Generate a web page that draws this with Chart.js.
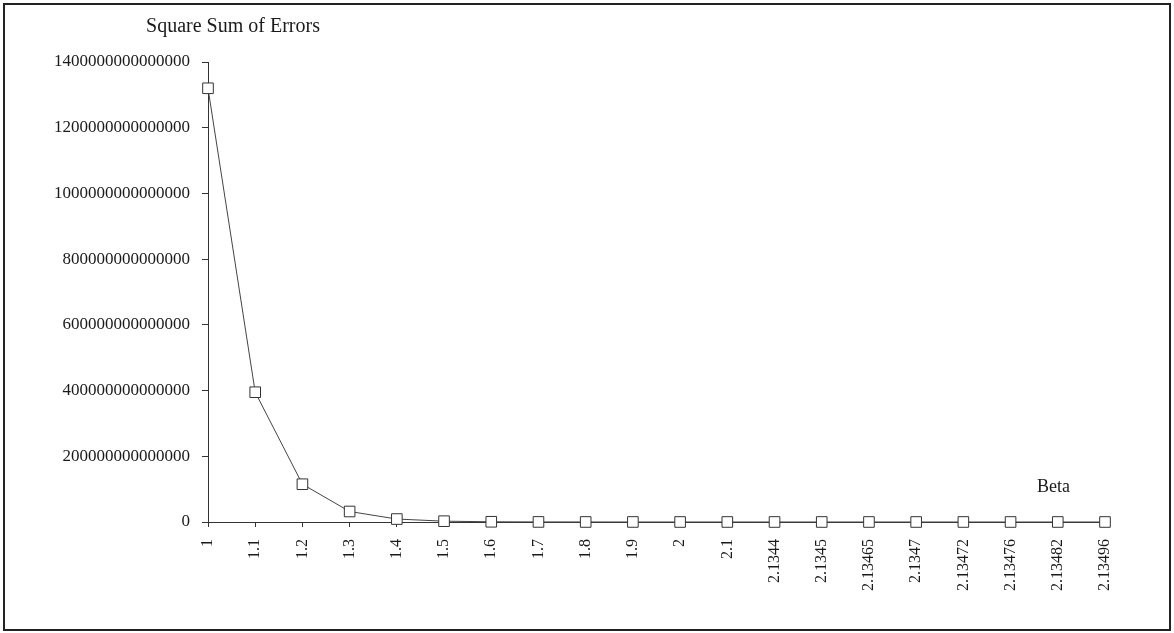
<!DOCTYPE html>
<html>
<head>
<meta charset="utf-8">
<script src="https://cdn.jsdelivr.net/npm/chart.js@4/dist/chart.umd.min.js"></script>
<style>
  html, body { margin: 0; padding: 0; background: #fff; }
  #wrap { width: 1174px; height: 633px; }
</style>
</head>
<body>
<div id="wrap"><canvas id="sseChart" width="1174" height="633"></canvas></div>
<script>
const betaLabels = ['1', '1.1', '1.2', '1.3', '1.4', '1.5', '1.6', '1.7', '1.8', '1.9', '2', '2.1',
    '2.1344', '2.1345', '2.13465', '2.1347', '2.13472', '2.13476', '2.13482', '2.13496'];
const sseValues = [1.32e15, 3.95e14, 1.15e14, 3.2e13, 9e12, 2.5e12, 7e11, 2e11, 1e11, 8e10, 6e10, 5e10,
    4e10, 4e10, 4e10, 4e10, 4e10, 4e10, 4e10, 4e10];
const yTickMax = 1400000000000000;
const yTickStep = 200000000000000;
const yAxisTitle = 'Square Sum of Errors';
const xAxisTitle = 'Beta';

const fontFamily = '"Liberation Serif", "Times New Roman", serif';
const inkColor = '#1a1a1a';

// white page, outer frame, and the two axis captions
const framePlugin = {
    id: 'frame',
    beforeDraw(chart) {
        const ctx = chart.ctx;
        ctx.save();
        ctx.fillStyle = '#fff';
        ctx.fillRect(0, 0, chart.width, chart.height);
        ctx.restore();
    },
    afterDraw(chart) {
        const ctx = chart.ctx;
        const area = chart.chartArea;
        ctx.save();
        ctx.strokeStyle = '#222';
        ctx.lineWidth = 2;
        ctx.strokeRect(4, 4, chart.width - 8, chart.height - 7);
        ctx.fillStyle = inkColor;
        ctx.font = '20px ' + fontFamily;
        ctx.textAlign = 'center';
        ctx.textBaseline = 'alphabetic';
        ctx.fillText(yAxisTitle, area.left + 25, area.top - 30);
        ctx.font = '18px ' + fontFamily;
        ctx.textAlign = 'right';
        ctx.fillText(xAxisTitle, area.right - 35, area.bottom - 30);
        ctx.restore();
    }
};

new Chart(document.getElementById('sseChart').getContext('2d'), {
    type: 'line',
    data: {
        labels: betaLabels,
        datasets: [{
            label: yAxisTitle,
            data: sseValues,
            borderColor: '#444',
            borderWidth: 1,
            tension: 0,
            fill: false,
            clip: false,
            pointStyle: 'rect',
            pointRadius: 7.5,
            pointBackgroundColor: '#fff',
            pointBorderColor: '#333',
            pointBorderWidth: 1
        }]
    },
    options: {
        responsive: false,
        animation: false,
        layout: { padding: { top: 62, right: 69, bottom: 0, left: 0 } },
        plugins: {
            legend: { display: false },
            tooltip: { enabled: false }
        },
        scales: {
            x: {
                offset: false,
                afterFit: (scale) => { scale.height = 111; },
                grid: { display: true, drawOnChartArea: false, tickLength: 5, color: '#333' },
                border: { display: true, color: '#333', width: 1 },
                ticks: {
                    minRotation: 90,
                    maxRotation: 90,
                    autoSkip: false,
                    padding: 12,
                    color: inkColor,
                    font: { family: fontFamily, size: 16 }
                }
            },
            y: {
                min: 0,
                max: yTickMax,
                afterFit: (scale) => { scale.width = 208; },
                grid: { display: true, drawOnChartArea: false, tickLength: 6, color: '#333' },
                border: { display: true, color: '#333', width: 1 },
                ticks: {
                    stepSize: yTickStep,
                    padding: 12,
                    color: inkColor,
                    font: { family: fontFamily, size: 17 },
                    callback: (value) => BigInt(Math.round(value)).toString()
                }
            }
        }
    },
    plugins: [framePlugin]
});
</script>
</body>
</html>
